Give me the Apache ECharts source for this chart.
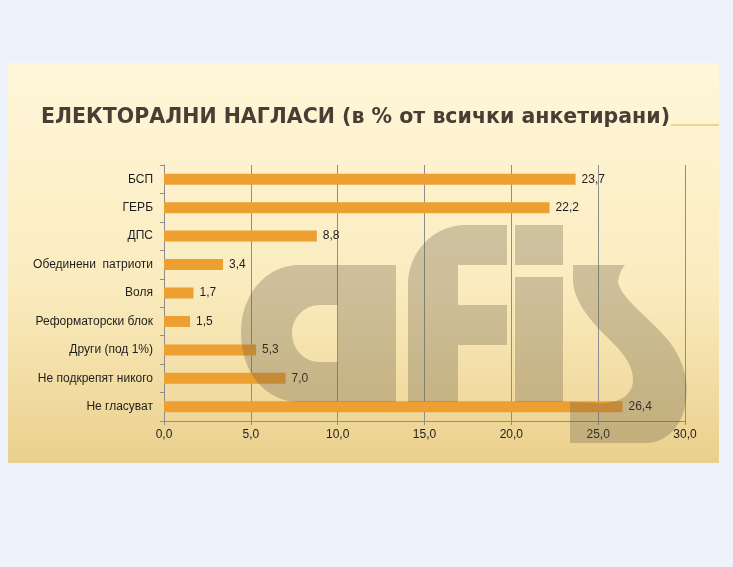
<!DOCTYPE html>
<html>
<head>
<meta charset="utf-8">
<script src="https://cdn.jsdelivr.net/npm/echarts@6/dist/echarts.min.js"></script>
<style>
html,body{margin:0;padding:0;background:#EEF2FA;}
#chart{width:733px;height:567px;}
</style>
</head>
<body>
<div id="chart"></div>
<script>
const titleText = 'ЕЛЕКТОРАЛНИ НАГЛАСИ (в % от всички анкетирани)';
const categories = ['БСП','ГЕРБ','ДПС','Обединени  патриоти','Воля','Реформаторски блок','Други (под 1%)','Не подкрепят никого','Не гласуват'];
const values = [23.7, 22.2, 8.8, 3.4, 1.7, 1.5, 5.3, 7.0, 26.4];
const axisMin = 0, axisMax = 30, axisStep = 5;

const fmt = v => Number(v).toFixed(1).replace('.', ',');
const titleFont = "bold 22px 'DejaVu Sans Condensed','Liberation Sans',sans-serif";
const cv = document.createElement('canvas').getContext('2d');
cv.font = titleFont;
const titleScale = 629 / cv.measureText(titleText).width;

const chart = echarts.init(document.getElementById('chart'), null, {renderer:'canvas'});
chart.setOption({
  backgroundColor: '#EEF2FA',
  animation: false,
  graphic: [
    {type:'rect', z:-10, shape:{x:8,y:63,width:711,height:400},
     style:{fill:new echarts.graphic.LinearGradient(0,0,0,1,[
       {offset:0,color:'#FFF7DA'},{offset:0.55,color:'#FBECBF'},{offset:1,color:'#EAD08D'}])}},
    {type:'line', z:-5, shape:{x1:671,y1:125,x2:719,y2:125}, style:{stroke:'#E2B24E',lineWidth:1}},
    {type:'text', z:5, x:41, y:128, scaleX:titleScale, originX:0, originY:0,
     style:{text:titleText, font:titleFont, fill:'#4A3E34', verticalAlign:'bottom'}}
  ],
  grid: {left:164, right:48, top:165, bottom:146, containLabel:false},
  xAxis: {
    type:'value', min:axisMin, max:axisMax, interval:axisStep,
    axisLine:{show:true, lineStyle:{color:'#8C8C8C'}},
    axisTick:{show:true, length:4, lineStyle:{color:'#8C8C8C'}},
    splitLine:{show:true, lineStyle:{color:'#8E8E8E', width:1}},
    axisLabel:{formatter:fmt, color:'#1E1E1E', fontSize:12, fontFamily:"'Liberation Sans',Arial,sans-serif", margin:8}
  },
  yAxis: {
    type:'category', data:categories, inverse:true,
    axisLine:{show:true, lineStyle:{color:'#8C8C8C'}},
    axisTick:{show:true, length:4, lineStyle:{color:'#8C8C8C'}},
    axisLabel:{color:'#1E1E1E', fontSize:12, fontFamily:"'Liberation Sans',Arial,sans-serif", margin:11}
  },
  series: [{
    type:'bar', data:values, barWidth:11,
    itemStyle:{color:'#EE9F31'},
    label:{show:true, position:'right', distance:6, formatter:p=>fmt(p.value), color:'#1E1E1E', fontSize:12, fontFamily:"'Liberation Sans',Arial,sans-serif"}
  }]
});

// decorative "afis" watermark drawn over the chart
const wm = 'rgba(100,90,70,0.30)';
const wmPaths = [
  'M300,265 L396,265 L396,402 L300,402 C265,402 241,372 241,333 C241,295 265,265 300,265 Z M320,305 C304,305 292,318 292,333 C292,349 304,362 320,362 L338,362 L338,305 Z',
  'M408,402 L408,285 C408,252 433,225 466,225 L507,225 L507,265 L458,265 L458,305 L507,305 L507,345 L458,345 L458,402 Z',
  'M515,225 L563,225 L563,265 L515,265 Z M515,277 L563,277 L563,402 L515,402 Z',
  'M573,265 L625,265 C622,268 619,275 618,282 C622,300 650,318 668,340 C684,360 689,382 686,400 C683,425 668,443 645,443 L570,443 L570,402 L600,403 C620,403 634,395 633,378 C632,360 615,345 605,335 C590,320 573,300 573,280 Z'
];
const zr = chart.getZr();
wmPaths.forEach(d => {
  const p = echarts.graphic.makePath(d, {style:{fill:wm}, z:100, silent:true});
  p.z = 100;
  zr.add(p);
});
</script>
</body>
</html>
